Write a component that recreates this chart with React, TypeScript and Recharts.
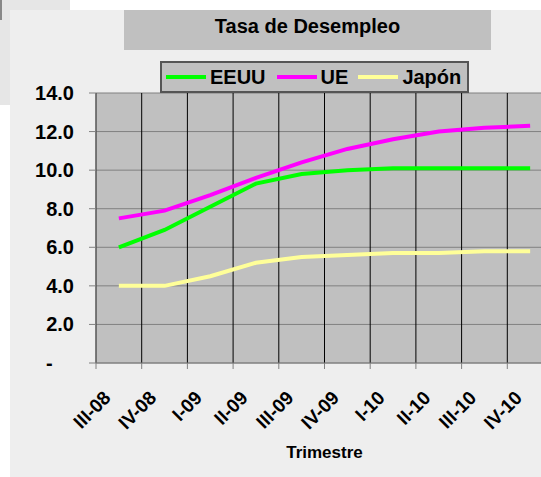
import React from 'react';
import {
  LineChart,
  Line,
  XAxis,
  YAxis,
  CartesianGrid,
  Legend,
  Label,
} from 'recharts';

const quarters = ['III-08', 'IV-08', 'I-09', 'II-09', 'III-09', 'IV-09', 'I-10', 'II-10', 'III-10', 'IV-10'];
const eeuu = [6.0, 6.9, 8.1, 9.3, 9.8, 10.0, 10.1, 10.1, 10.1, 10.1];
const ue = [7.5, 7.9, 8.7, 9.6, 10.4, 11.1, 11.6, 12.0, 12.2, 12.3];
const japon = [4.0, 4.0, 4.5, 5.2, 5.5, 5.6, 5.7, 5.7, 5.8, 5.8];
const seriesNames = ['EEUU', 'UE', 'Japón'];
const yTicks = [0, 2, 4, 6, 8, 10, 12, 14];

const FONT = 'Arial, "Liberation Sans", sans-serif';
const CHART_W = 565;
const CHART_H = 477;
const Y_AXIS_W = 96;
const MARGIN = { top: 93, right: 12, bottom: 19, left: 0 };
// half of one category band, used to centre the labels between gridlines
const HALF_BAND = (CHART_W - MARGIN.left - MARGIN.right - Y_AXIS_W) / quarters.length / 2;

const data = quarters.map((q, i) => ({
  q,
  pos: i + 0.5,
  EEUU: eeuu[i],
  UE: ue[i],
  Japon: japon[i],
}));
const boundaries = quarters.map((_, i) => i).concat(quarters.length);

const QuarterTick = ({ x, y, payload }: any) => {
  const label = quarters[payload.value];
  if (label === undefined) return <g />;
  return (
    <g transform={`translate(${x + HALF_BAND - 7},${y + 28})`}>
      <text
        textAnchor="end"
        transform="rotate(-45)"
        fontFamily={FONT}
        fontWeight="bold"
        fontSize={19}
        fill="#000"
      >
        {label}
      </text>
    </g>
  );
};

const RateTick = ({ x, y, payload }: any) => {
  const v = payload.value;
  return (
    <text
      x={v === 0 ? x - 28 : x}
      y={y}
      dy="0.35em"
      textAnchor={v === 0 ? 'start' : 'end'}
      fontFamily={FONT}
      fontWeight="bold"
      fontSize={20}
      fill="#000"
    >
      {v === 0 ? '-' : v.toFixed(1)}
    </text>
  );
};

const LegendBox = ({ payload }: any) => {
  const items = [...(payload || [])].sort(
    (a: any, b: any) => seriesNames.indexOf(a.value) - seriesNames.indexOf(b.value)
  );
  return (
    <div
      style={{
        display: 'flex',
        alignItems: 'center',
        boxSizing: 'border-box',
        width: 309,
        height: 32,
        paddingLeft: 4,
        background: '#c0c0c0',
        border: '2px solid #555',
      }}
    >
      {items.map((entry: any, i: number) => (
        <div key={entry.value} style={{ display: 'flex', alignItems: 'center', marginRight: i === 0 ? 11 : 10 }}>
          <span style={{ display: 'inline-block', width: 40, height: 4, background: entry.color, marginRight: 4 }} />
          <span style={{ fontFamily: FONT, fontWeight: 'bold', fontSize: 20, color: '#000', lineHeight: '24px' }}>
            {entry.value}
          </span>
        </div>
      ))}
    </div>
  );
};

const App = () => {
  return (
    <div
      style={{
        position: 'absolute',
        left: 0,
        top: 0,
        width: 541,
        height: 477,
        overflow: 'hidden',
        background: '#fff',
      }}
    >
      <div style={{ position: 'absolute', left: 0, top: 0, width: 70, height: 105, background: '#e6e6e6' }} />
      <div style={{ position: 'absolute', left: 0, top: 0, width: 2, height: 20, background: '#888' }} />
      <div style={{ position: 'absolute', left: 10, top: 10, right: 0, bottom: 0, background: '#eeeeee' }} />
      <div
        style={{
          position: 'absolute',
          left: 124,
          top: 10,
          width: 367,
          height: 40,
          background: '#c0c0c0',
          textAlign: 'center',
          lineHeight: '32px',
          fontFamily: FONT,
          fontWeight: 'bold',
          fontSize: 20,
          color: '#000',
        }}
      >
        Tasa de Desempleo
      </div>
      <div style={{ position: 'absolute', left: 0, top: 0 }}>
        <LineChart width={CHART_W} height={CHART_H} data={data} margin={MARGIN}>
          <CartesianGrid horizontal vertical={false} stroke="#808080" fill="#c0c0c0" />
          <CartesianGrid horizontal={false} vertical stroke="#000" />
          <XAxis
            dataKey="pos"
            type="number"
            domain={[0, quarters.length]}
            ticks={boundaries}
            interval={0}
            tick={QuarterTick}
            tickSize={6}
            tickLine={{ stroke: '#808080' }}
            axisLine={{ stroke: '#808080' }}
            height={95}
          >
            <Label
              value="Trimestre"
              position="insideBottom"
              offset={0}
              style={{ fontFamily: FONT, fontWeight: 'bold', fontSize: 17, fill: '#000' }}
            />
          </XAxis>
          <YAxis
            type="number"
            domain={[0, 14]}
            ticks={yTicks}
            interval={0}
            width={Y_AXIS_W}
            tick={RateTick}
            tickSize={7}
            tickMargin={15}
            tickLine={{ stroke: '#808080' }}
            axisLine={{ stroke: '#808080' }}
          />
          <Legend
            layout="horizontal"
            verticalAlign="middle"
            align="center"
            content={LegendBox}
            wrapperStyle={{ position: 'absolute', left: 160, top: 61, width: 309, height: 32 }}
          />
          <Line
            type="linear"
            dataKey="EEUU"
            name="EEUU"
            stroke="#00ff00"
            strokeWidth={4}
            dot={false}
            isAnimationActive={false}
          />
          <Line
            type="linear"
            dataKey="UE"
            name="UE"
            stroke="#ff00ff"
            strokeWidth={4}
            dot={false}
            isAnimationActive={false}
          />
          <Line
            type="linear"
            dataKey="Japon"
            name="Japón"
            stroke="#ffff99"
            strokeWidth={4}
            dot={false}
            isAnimationActive={false}
          />
        </LineChart>
      </div>
    </div>
  );
};

export default App;
